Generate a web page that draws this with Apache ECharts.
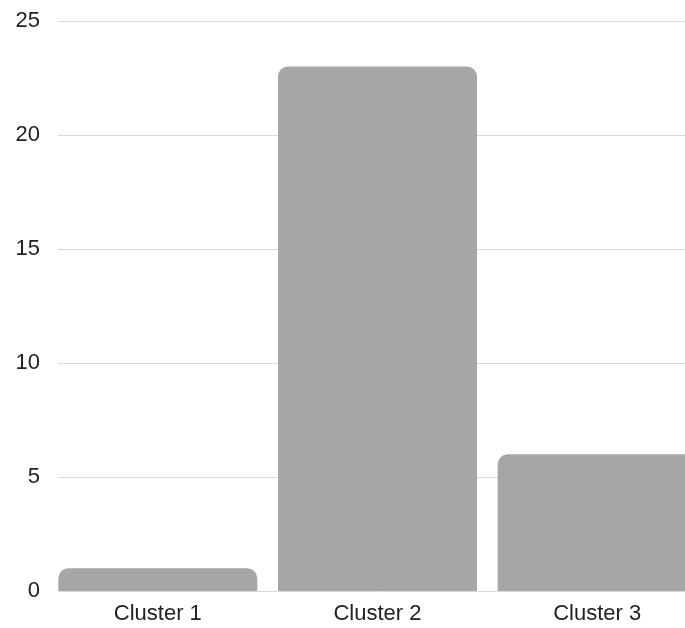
<!DOCTYPE html>
<html>
<head>
<meta charset="utf-8">
<script src="https://cdn.jsdelivr.net/npm/echarts@6/dist/echarts.min.js"></script>
<style>
  html, body { margin: 0; padding: 0; background: #fff; overflow: hidden; }
  /* wider than the window: the last bar is cut off at the right edge like the original */
  #chart { width: 707px; height: 628px; }
</style>
</head>
<body>
<div id="chart"></div>
<script>
const categories = ['Cluster 1', 'Cluster 2', 'Cluster 3']
const counts = [1, 23, 6]
const yTicks = [0, 5, 10, 15, 20, 25]

const myChart = echarts.init(document.getElementById('chart'))
myChart.setOption({
  animation: false,
  grid: [
    // axis labels and grid lines
    { left: 58, top: 21, right: 0, bottom: 37 },
    // bars
    { left: 48, top: 21, right: 0, bottom: 37 }
  ],
  xAxis: [
    { gridIndex: 0, type: 'category', data: categories, show: false },
    {
      gridIndex: 1,
      type: 'category',
      data: categories,
      axisLine: { show: false },
      axisTick: { show: false },
      axisLabel: { margin: 12, fontSize: 22, color: '#222', fontFamily: 'Liberation Sans' }
    }
  ],
  yAxis: [
    {
      gridIndex: 0,
      type: 'value',
      min: yTicks[0],
      max: yTicks[yTicks.length - 1],
      interval: 5,
      axisLine: { show: false },
      axisTick: { show: false },
      axisLabel: { margin: 18, fontSize: 22, color: '#222', fontFamily: 'Liberation Sans' },
      splitLine: { lineStyle: { color: '#d9d9d9', width: 1 } }
    },
    {
      gridIndex: 1,
      type: 'value',
      min: yTicks[0],
      max: yTicks[yTicks.length - 1],
      show: false
    }
  ],
  series: [
    {
      type: 'bar',
      xAxisIndex: 1,
      yAxisIndex: 1,
      data: counts,
      barWidth: 199,
      itemStyle: { color: '#a6a6a6', borderRadius: [10, 10, 0, 0] }
    }
  ]
})
</script>
</body>
</html>
